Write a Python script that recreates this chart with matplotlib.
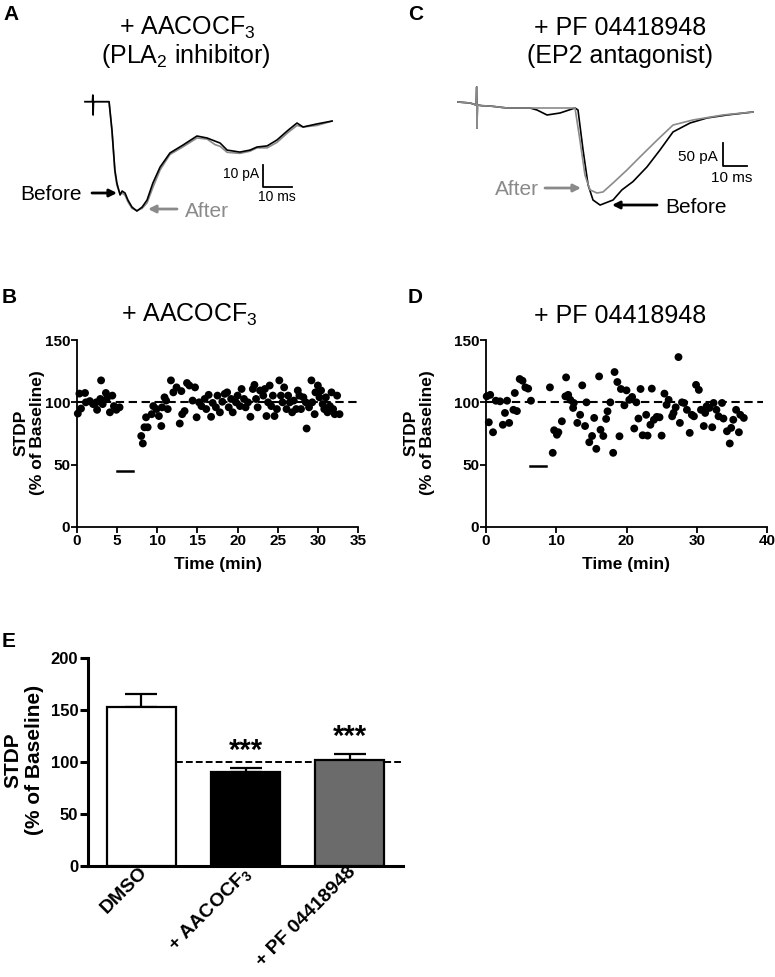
import matplotlib
matplotlib.use('Agg')
import matplotlib.pyplot as plt
from matplotlib.transforms import ScaledTranslation

plt.rcParams['font.family'] = ['Liberation Sans', 'DejaVu Sans']
plt.rcParams['mathtext.fontset'] = 'custom'
plt.rcParams['mathtext.rm'] = 'Liberation Sans'
plt.rcParams['mathtext.it'] = 'Liberation Sans:italic'
plt.rcParams['mathtext.bf'] = 'Liberation Sans:bold'

# ---------------- data ----------------
# Panel A traces (ms, pA)
A_t = [0, 2.6, 2.7, 2.8, 2.9, 3.0, 8.3, 9.3, 10.3, 11.0, 12.1, 12.8, 13.8, 14.8, 16.2, 17.9,
       19.7, 21.4, 23.4, 25.9, 29.3, 33.8, 38.6, 42.1, 44.8, 46.6, 49.0, 53.4, 56.9, 59.3,
       62.8, 66.2, 70.0, 73.1, 75.2, 80.0, 85.2]
A_before = [0, 0, 3, -6, 0, 0, 0, -12.9, -31, -37, -42.4, -40.6, -41.5, -44.7, -47.9, -49.7,
            -47.9, -44.7, -37, -29.7, -23.3, -19.7, -15.6, -16.5, -17.9, -18.8, -22, -22.9,
            -22, -20.6, -20.1, -17.4, -13, -9.7, -11.5, -10.1, -8.8]
A_after = [0, 0, 3, -6, 0, 0, 0, -13.5, -32, -38, -42, -41.5, -42.5, -45.5, -48.5, -49.5,
           -48.5, -46, -39, -31, -24, -20.5, -16.5, -17, -19.5, -20.3, -23, -23.5, -22.5,
           -21, -21, -18.5, -14, -10.8, -11.5, -10.8, -8.8]

# Panel C traces (ms, pA)
C_before_t = [0, 5, 7.6, 7.8, 7.9, 8.1, 10, 13.3, 20.4, 30, 32.9, 37.1, 42.5, 48.75, 50, 52.1,
              54.2, 56.25, 59.2, 64.6, 68.3, 72.9, 78.75, 84.2, 89.6, 96.7, 103.75, 112.1, 122.9]
C_before = [13, 10.9, 6.5, 45.7, -43.5, 6.5, 5, 4.3, 0, 0, -4.3, -15.2, -10.9, 0, -4.3, -91,
            -167, -200, -211, -200, -178, -160, -128, -91, -52, -32.6, -21.7, -15.2, -8.7]
C_after_t = [0, 5, 7.6, 7.8, 7.9, 8.1, 10, 13.3, 20.4, 30, 37.1, 42.5, 48.75, 50.8, 52.9, 55,
             57.9, 60.4, 64.6, 70.4, 75.8, 83, 89.6, 97.9, 110.4, 122.9]
C_after = [13, 10.9, 6.5, 45.7, -43.5, 6.5, 5, 4.3, 0, 0, 0, 0, 0, -69.6, -145.7, -178,
           -184.8, -182.6, -163, -134.8, -106.5, -69.6, -37, -26, -15.2, -8.7]

# Panel B scatter (min, % of baseline)
B_time = [0.1, 0.3, 0.5, 1.0, 1.1, 1.6, 2.0, 2.4, 2.5, 2.9, 3.0, 3.2, 3.6, 3.7, 4.1, 4.4, 4.6,
          4.9, 5.3,
          8.0, 8.2, 8.4, 8.8, 8.6, 9.3, 9.5, 9.9, 10.2, 10.5, 10.6, 10.9, 11.1, 11.3, 11.7,
          12.0, 12.4, 12.8, 13.0, 13.1, 13.4, 13.7, 14.0, 14.4, 14.7, 14.9, 15.2, 15.5, 15.9,
          16.1, 16.4, 16.7, 16.9, 17.3, 17.5, 17.8, 18.1, 18.4, 18.7, 18.9, 19.2, 19.4, 19.8,
          20.0, 20.3, 20.5, 20.8, 21.0, 21.3, 21.6, 21.9, 22.1, 22.3, 22.5, 22.8, 23.2, 23.4,
          23.6, 23.8, 24.0, 24.2, 24.4, 24.6, 24.9, 25.2, 25.4, 25.6, 25.8, 26.1, 26.3, 26.5,
          26.8, 27.0, 27.3, 27.5, 27.7, 27.9, 28.2, 28.5, 28.6, 28.9, 29.2, 29.3, 29.6, 29.7,
          30.0, 30.2, 30.4, 30.6, 30.8, 31.0, 31.2, 31.5, 31.7, 31.9, 32.1, 32.4, 32.7]
B_stdp = [91, 107, 95, 107.5, 100, 101, 98.6, 100, 94, 102.7, 117.6, 98.6, 107.5, 102.7, 92,
          105.4, 97, 94, 96,
          73, 67, 80, 80, 88, 90.5, 97, 94.6, 89, 81, 96, 104, 101.4, 94.6, 117.6,
          108, 112, 83, 109, 90.5, 93, 115.5, 113.5, 101.4, 112, 88, 100, 97, 102.7,
          94.6, 106, 88.4, 99.5, 96, 105.4, 92, 100.5, 106.8, 108, 96, 102.7, 92, 100,
          105.4, 97, 110.7, 102.7, 96, 100, 88.4, 110.7, 114, 102.7, 96, 109.5, 105.4, 110.7,
          89, 100, 113.5, 97, 105.4, 89, 94.6, 117.6, 105.4, 100, 112, 94.6, 105.4, 100,
          92, 101.4, 94.6, 109.5, 105.4, 94.6, 104, 100, 79, 96, 117.6, 100, 90.5, 108,
          113.5, 104, 109.5, 98.6, 94.6, 104, 92, 97, 108, 94.6, 90.5, 105.4, 90.5]
B_pairing = [5, 7]

# Panel D scatter (min, % of baseline)
D_time = [0.1, 0.6, 0.4, 1.0, 1.4, 2.0, 2.4, 2.7, 3.0, 3.3, 3.9, 4.1, 4.4, 4.8, 5.2, 5.6, 6.0,
          6.4,
          9.1, 9.5, 9.7, 10.1, 10.3, 10.8, 11.3, 11.4, 11.7, 12.0, 12.4, 12.5, 13.0, 13.4,
          13.7, 14.1, 14.3, 14.7, 15.1, 15.4, 15.7, 16.1, 16.3, 16.7, 17.1, 17.3, 17.7, 18.1,
          18.3, 18.7, 19.0, 19.2, 19.7, 20.0, 20.4, 20.8, 21.1, 21.4, 21.7, 22.0, 22.3, 22.8,
          23.0, 23.4, 23.6, 23.9, 24.3, 24.7, 25.0, 25.4, 25.7, 26.0, 26.5, 26.7, 27.0, 27.4,
          27.6, 27.9, 28.2, 28.6, 29.0, 29.3, 29.6, 29.9, 30.3, 30.6, 31.0, 31.2, 31.4, 31.8,
          32.2, 32.4, 32.8, 33.1, 33.6, 33.8, 34.3, 34.7, 34.9, 35.2, 35.6, 36.0, 36.2, 36.7]
D_stdp = [104.8, 106, 84, 76, 101.3, 100.8, 82, 91.5, 101.3, 83.5, 94, 107.5, 93, 118.7, 117.3,
          112, 111, 101.3,
          112, 59.5, 77.6, 74, 76, 84.8, 104.8, 120, 106, 102, 95.5, 99.5, 83.5, 90,
          113.6, 81, 100, 68, 73, 87.5, 62.7, 120.8, 78, 73, 86.7, 92.8, 100, 59.5,
          124.3, 116.3, 72.8, 110.7, 97.6, 109.6, 102, 104.3, 79, 100, 87, 110.7, 73.6, 90,
          73.3, 82, 111, 86, 88.3, 88, 73.3, 107, 98, 102, 88.8, 91.5, 96, 136.3,
          83.5, 100, 99.5, 94, 75.5, 90, 88.8, 114, 110, 94, 81, 91.5, 96.8, 95.5,
          80, 99.5, 94, 88.8, 99.5, 87, 76.8, 67, 79.5, 86, 94, 76, 90, 87.5]
D_pairing = [6.2, 8.6]

# Panel E bars
E_groups = ['DMSO', r'+ AACOCF$_\mathbf{3}$', '+ PF 04418948']
E_mean = [153, 90.6, 102]
E_sem = [12, 3.8, 5.4]
E_colors = ['white', 'black', '#6b6b6b']
E_sig = ['', '***', '***']

# ---------------- figure ----------------
W, H = 775, 977
fig = plt.figure(figsize=(W / 100, H / 100), dpi=100)


def box(l, t, r, b):
    return [l / W, 1 - b / H, (r - l) / W, (b - t) / H]


ov = fig.add_axes([0, 0, 1, 1])
ov.set_xlim(0, W)
ov.set_ylim(H, 0)
ov.axis('off')

GRAY = '#8a8a8a'

# panel letters
for letter, x, y in [('A', 3, 20), ('C', 408, 20), ('B', 2, 303), ('D', 408, 303), ('E', 2, 647)]:
    ov.text(x, y, letter, fontsize=15, fontweight='bold', ha='left', va='baseline')

# titles
ov.text(187, 35, r'+ AACOCF$_\mathrm{3}$', fontsize=18, ha='center', va='baseline')
ov.text(186, 63, r'(PLA$_\mathrm{2}$ inhibitor)', fontsize=18, ha='center', va='baseline')
ov.text(620, 35, '+ PF 04418948', fontsize=18, ha='center', va='baseline')
ov.text(620, 63, '(EP2 antagonist)', fontsize=18, ha='center', va='baseline')
ov.text(189, 322, r'+ AACOCF$_\mathrm{3}$', fontsize=18, ha='center', va='baseline')
ov.text(620, 323, '+ PF 04418948', fontsize=18, ha='center', va='baseline')

# ---- trace A ----
axA = fig.add_axes(box(80, 85, 340, 225))
axA.set_xlim(-1.724, 87.93)
axA.set_ylim(-56.05, 7.59)
axA.axis('off')
axA.plot(A_t, A_after, color=GRAY, lw=1.2)
axA.plot(A_t, A_before, color='black', lw=1.2)
axA.plot([61.4, 61.4, 71.4], [-29, -39, -39], color='black', lw=1.3)
ov.text(259, 174, '10 pA', fontsize=10, ha='right', va='center')
ov.text(277, 197, '10 ms', fontsize=10, ha='center', va='center')

arrow_kw = dict(arrowstyle='-|>', lw=2, mutation_scale=11, shrinkA=0, shrinkB=0)
ov.text(20, 200, 'Before', fontsize=15, ha='left', va='baseline')
ov.annotate('', xy=(117, 193), xytext=(92, 193), arrowprops=dict(color='black', **arrow_kw))
ov.text(185, 217, 'After', fontsize=15, ha='left', va='baseline', color=GRAY)
ov.annotate('', xy=(148, 209), xytext=(177, 209), arrowprops=dict(color=GRAY, **arrow_kw))

# ---- trace C ----
axC = fig.add_axes(box(450, 80, 770, 215))
axC.set_xlim((450 - 458) / 2.4, (770 - 458) / 2.4)
axC.set_ylim(-(215 - 108) / 0.46, -(80 - 108) / 0.46)
axC.axis('off')
axC.plot(C_before_t, C_before, color='black', lw=1.2)
axC.plot(C_after_t, C_after, color=GRAY, lw=1.2)
axC.plot([110.4, 110.4, 120.4], [-76, -126, -126], color='black', lw=1.3)
ov.text(718, 157, '50 pA', fontsize=11, ha='right', va='center')
ov.text(732, 178, '10 ms', fontsize=11, ha='center', va='center')
ov.text(495, 195, 'After', fontsize=15, ha='left', va='baseline', color=GRAY)
ov.annotate('', xy=(581, 188), xytext=(545, 188), arrowprops=dict(color=GRAY, **arrow_kw))
ov.text(665, 213, 'Before', fontsize=15, ha='left', va='baseline')
ov.annotate('', xy=(612, 205), xytext=(657, 205), arrowprops=dict(color='black', **arrow_kw))


# ---- scatter panels ----
def style_scatter(ax, xmax, xstep):
    ax.set_ylim(0, 150)
    ax.set_xlim(0, xmax)
    ax.set_yticks([0, 50, 100, 150])
    ax.set_xticks(range(0, xmax + 1, xstep))
    for s in ['top', 'right']:
        ax.spines[s].set_visible(False)
    for s in ['left', 'bottom']:
        ax.spines[s].set_linewidth(1.3)
    ax.tick_params(direction='out', length=4, width=1.3, labelsize=11, pad=0.8)
    plt.setp(ax.get_xticklabels() + ax.get_yticklabels(), fontweight='bold')
    ax.patch.set_alpha(0)


axB = fig.add_axes(box(77, 340, 358, 527))
style_scatter(axB, 35, 5)
axB.scatter(B_time, B_stdp, s=32, c='black', edgecolors='none', clip_on=False, zorder=3)
axB.plot([0, 35.4], [100, 100], color='black', lw=1.5, dashes=(4, 2.2), clip_on=False, zorder=2)
axB.plot(B_pairing, [45, 45], color='black', lw=1.8)

axD = fig.add_axes(box(486, 340, 767, 527))
style_scatter(axD, 40, 10)
axD.scatter(D_time, D_stdp, s=32, c='black', edgecolors='none', clip_on=False, zorder=3)
axD.plot([0, 39.5], [100, 100], color='black', lw=1.5, dashes=(4, 2.2), clip_on=False, zorder=2)
axD.plot(D_pairing, [49, 49], color='black', lw=1.8)

for xc in (29, 419):
    ov.text(xc, 433, 'STDP\n(% of Baseline)', fontsize=12.5, fontweight='bold', rotation=90,
            ha='center', va='center', multialignment='center', linespacing=1.15)
for xc in (218, 626):
    ov.text(xc, 565, 'Time (min)', fontsize=12.5, fontweight='bold', ha='center', va='center')

# ---- bar panel E ----
axE = fig.add_axes(box(88, 658, 403, 866))
xs = list(range(len(E_groups)))
axE.bar(xs, E_mean, width=0.665, color=E_colors, edgecolor='black', linewidth=1.6, zorder=3)
axE.errorbar(xs, E_mean, yerr=[[0] * len(xs), E_sem], fmt='none', ecolor='black',
             elinewidth=1.6, capsize=11.5, capthick=1.6, zorder=2)
axE.plot([0.3325, 2.51], [100, 100], color='black', lw=1.4, dashes=(3.5, 1.6), zorder=1,
         clip_on=False)
for x, m, e, s in zip(xs, E_mean, E_sem, E_sig):
    if s:
        axE.text(x, m + e + 3, s, fontsize=21, fontweight='bold', ha='center', va='bottom')
axE.set_xlim(-0.51, 2.51)
axE.set_ylim(0, 200)
axE.set_yticks([0, 50, 100, 150, 200])
axE.set_xticks(xs)
axE.set_xticklabels(E_groups, rotation=45, ha='right', va='top', fontsize=14, fontweight='bold')
for s in ['top', 'right']:
    axE.spines[s].set_visible(False)
for s in ['left', 'bottom']:
    axE.spines[s].set_linewidth(2.2)
axE.tick_params(axis='y', direction='out', length=6, width=2.2, labelsize=12, pad=1.0)
axE.tick_params(axis='x', length=0, pad=2)
plt.setp(axE.get_yticklabels(), fontweight='bold')
for lbl in axE.get_xticklabels():
    lbl.set_transform(lbl.get_transform() + ScaledTranslation(0.10, 0.05, fig.dpi_scale_trans))
axE.patch.set_alpha(0)
ov.text(24, 760, 'STDP\n(% of Baseline)', fontsize=15, fontweight='bold', rotation=90,
        ha='center', va='center', multialignment='center', linespacing=1.2)

fig.savefig('out.png', dpi=100)
